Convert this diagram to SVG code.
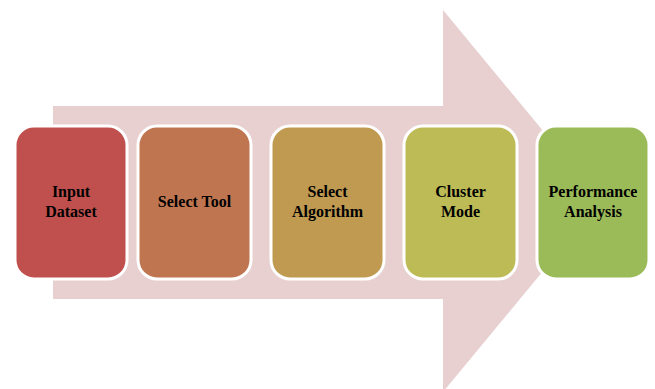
<svg xmlns="http://www.w3.org/2000/svg" width="655" height="389" viewBox="0 0 655 389">
  <style>
    .box { stroke: #ffffff; stroke-width: 3; }
    .label { font-family: "Liberation Serif", "Times New Roman", serif; font-weight: bold; font-size: 16px; fill: #000000; text-anchor: middle; }
  </style>
  <rect width="655" height="389" fill="#ffffff"/>
  <!-- large background process arrow -->
  <g id="connectors">
    <path d="M53,106 H443 V10 L601,201 L443,392 V299 H53 Z" fill="#e8d0d1"/>
  </g>
  <g id="input-dataset">
    <rect class="box" x="15" y="126" width="112" height="153" rx="19" fill="#c0504d"/>
    <text class="label" x="71" y="197">Input</text>
    <text class="label" x="71" y="217">Dataset</text>
  </g>
  <g id="select-tool">
    <rect class="box" x="138" y="126" width="113" height="153" rx="19" fill="#bf7650"/>
    <text class="label" x="194.5" y="207">Select Tool</text>
  </g>
  <g id="select-algorithm">
    <rect class="box" x="271" y="126" width="113" height="153" rx="19" fill="#bf9a50"/>
    <text class="label" x="327.5" y="197">Select</text>
    <text class="label" x="327.5" y="217">Algorithm</text>
  </g>
  <g id="cluster-mode">
    <rect class="box" x="404" y="126" width="113" height="153" rx="19" fill="#bdbb56"/>
    <text class="label" x="460.5" y="197">Cluster</text>
    <text class="label" x="460.5" y="217">Mode</text>
  </g>
  <g id="performance-analysis">
    <rect class="box" x="537" y="126" width="112" height="153" rx="19" fill="#9bbb59"/>
    <text class="label" x="593" y="197">Performance</text>
    <text class="label" x="593" y="217">Analysis</text>
  </g>
</svg>
